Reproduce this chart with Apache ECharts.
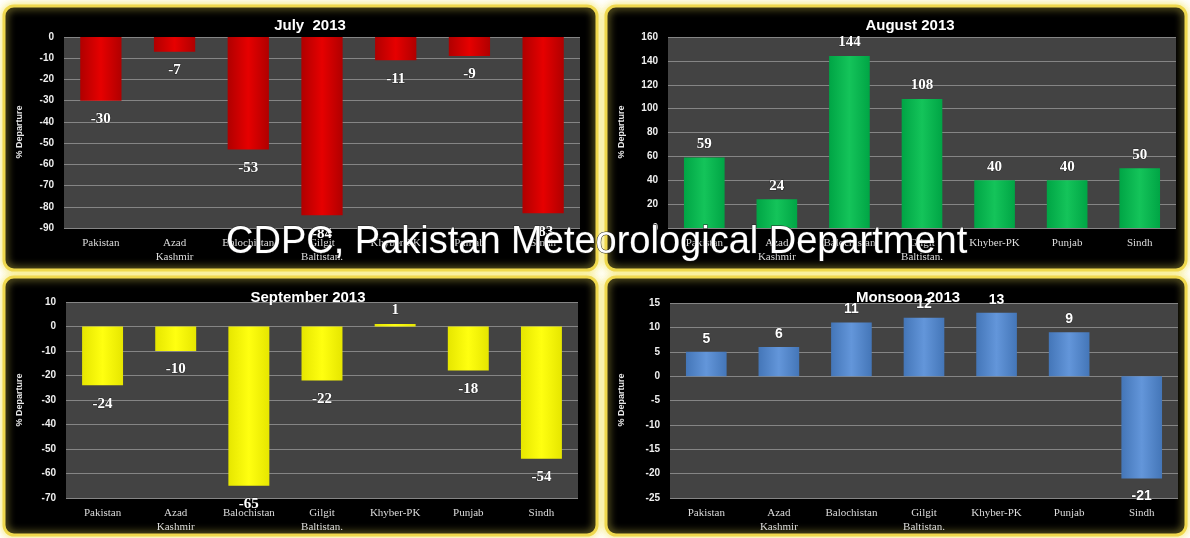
<!DOCTYPE html>
<html><head><meta charset="utf-8">
<script src="https://cdn.jsdelivr.net/npm/echarts@6/dist/echarts.min.js"></script>
<style>html,body{margin:0;padding:0;background:#fff}#c{width:1190px;height:538px}</style>
</head><body><div id="c"></div>
<script>
const categories = ['Pakistan','Azad\nKashmir','Balochistan','Gilgit\nBaltistan.','Khyber-PK','Punjab','Sindh'];
const julyValues = [-30,-7,-53,-84,-11,-9,-83];
const augustValues = [59,24,144,108,40,40,50];
const septemberValues = [-24,-10,-65,-22,1,-18,-54];
const monsoonValues = [5,6,11,12,13,9,-21];
const titles = ['July  2013','August 2013','September 2013','Monsoon 2013'];
const julyTicks = {min:-90,max:0,interval:10};
const augustTicks = {min:0,max:160,interval:20};
const septemberTicks = {min:-70,max:10,interval:10};
const monsoonTicks = {min:-25,max:15,interval:5};

const chart = echarts.init(document.getElementById('c'));

const grids = [
  {left:64, top:37, width:516, height:191},
  {left:668, top:37, width:508, height:191},
  {left:66, top:302, width:512, height:196},
  {left:670, top:303, width:508, height:195}
];
const ticks = [julyTicks, augustTicks, septemberTicks, monsoonTicks];
const values = [julyValues, augustValues, septemberValues, monsoonValues];
function grad(edge, mid){
  return new echarts.graphic.LinearGradient(0,0,1,0,[
    {offset:0,color:edge},{offset:0.5,color:mid},{offset:1,color:edge}]);
}
const colors = [grad('#b00000','#e60000'), grad('#00a545','#14c45a'), grad('#e6e600','#ffff10'), grad('#4476b8','#6396da')];
const labelFonts = ['Liberation Serif','Liberation Serif','Liberation Serif','Liberation Sans'];
const labelSizes = [15,15,15,14];
const titlePos = [[305,13],[905,13],[303,285],[903,285]];

const panels = [
  {x:4,y:6,w:593,h:264},{x:606,y:6,w:580,h:264},
  {x:4,y:277,w:593,h:258},{x:606,y:277,w:580,h:258}
];
const graphics = panels.map(p => ({
  type:'rect', z:-10, silent:true,
  shape:{x:p.x,y:p.y,width:p.w,height:p.h,r:10},
  style:{fill:'#000',stroke:'#efd84e',lineWidth:3,shadowBlur:8,shadowColor:'rgba(245,230,90,0.9)'}
}));
const yNames = [[20,132],[622,132],[20,400],[622,400]];
yNames.forEach(p => graphics.push({
  type:'text', z:5, x:p[0], y:p[1], rotation:Math.PI/2,
  style:{text:'% Departure', fill:'#e8e8e8', font:'bold 9px "Liberation Sans"', align:'center', verticalAlign:'middle'}
}));
graphics.push({
  type:'text', z:200, x:226, y:243,
  style:{text:'CDPC, Pakistan Meteorological Department', fill:'#fff', stroke:'#222', lineWidth:1,
    font:'normal 38px "Liberation Sans"', verticalAlign:'middle', align:'left'}
});

chart.setOption({
  backgroundColor:'#ffffff',
  animation:false,
  title: titles.map((t,i)=>({
    text:t, left:titlePos[i][0], top:titlePos[i][1], textAlign:'center',
    textStyle:{color:'#fff', fontSize:15, fontWeight:'bold', fontFamily:'Liberation Sans'}
  })),
  graphic: graphics,
  grid: grids.map(g=>Object.assign({show:true, backgroundColor:'#434343', borderWidth:0}, g)),
  xAxis: grids.map((g,i)=>({
    type:'category', gridIndex:i, data:categories,
    axisLine:{show:false}, axisTick:{show:false},
    axisLabel:{color:'#dcdcdc', fontFamily:'Liberation Serif', fontSize:11, lineHeight:14, margin:8, interval:0}
  })),
  yAxis: ticks.map((t,i)=>({
    type:'value', gridIndex:i, min:t.min, max:t.max, interval:t.interval,
    axisLine:{show:false}, axisTick:{show:false},
    axisLabel:{color:'#eeeeee', fontFamily:'Liberation Sans', fontWeight:'bold', fontSize:10, margin:10},
    splitLine:{lineStyle:{color:'#858585', width:1}}
  })),
  series: values.map((vals,i)=>({
    type:'bar', xAxisIndex:i, yAxisIndex:i, barWidth:'56%',
    itemStyle:{color:colors[i]},
    data: vals.map(v=>({value:v, label:{position: v<0?'bottom':'top', distance: v<0?11:6}})),
    label:{show:true, color:'#fff', fontFamily:labelFonts[i], fontWeight:'bold', fontSize:labelSizes[i],
      textBorderColor:'rgba(0,0,0,0.4)', textBorderWidth:1}
  }))
});
</script></body></html>
